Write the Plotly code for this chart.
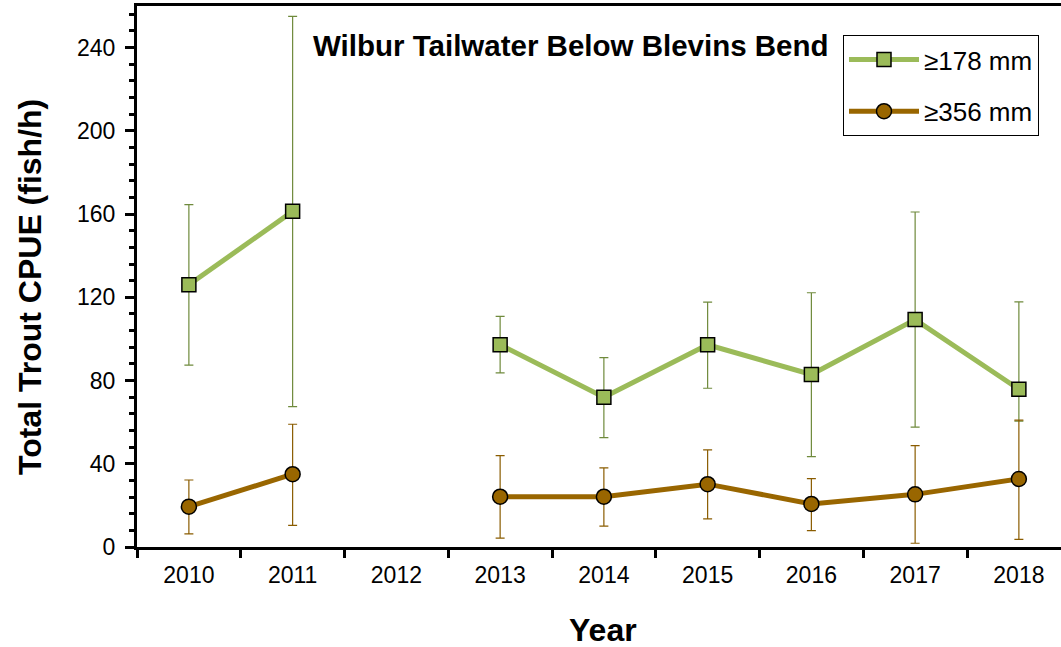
import plotly.graph_objects as go

years = ["2010", "2011", "2012", "2013", "2014", "2015", "2016", "2017", "2018"]

cpue_178 = [126.0, 161.3, None, 97.2, 72.0, 97.2, 82.9, 109.3, 75.8]
upper_178 = [164.5, 255.0, None, 110.8, 91.0, 117.7, 122.2, 161.0, 117.8]
lower_178 = [87.4, 67.5, None, 83.7, 52.6, 76.3, 43.4, 57.6, 60.5]

cpue_356 = [19.4, 35.0, None, 24.2, 24.2, 30.2, 20.7, 25.3, 32.7]
upper_356 = [32.2, 59.0, None, 43.9, 38.0, 46.7, 32.9, 48.7, 61.0]
lower_356 = [6.3, 10.4, None, 4.3, 10.0, 13.5, 7.9, 1.8, 3.7]

def plus(v, u):
    return [None if a is None else b - a for a, b in zip(v, u)]

def minus(v, l):
    return [None if a is None else a - b for a, b in zip(v, l)]

FONT = "Arial, Liberation Sans, sans-serif"
L, T, W, H = 137, 6, 924, 541

fig = go.Figure()
fig.add_trace(go.Scatter(
    x=years, y=cpue_178, name="≥178 mm", mode="lines+markers",
    line=dict(color="#9bbb59", width=5),
    marker=dict(symbol="square", size=14, color="#9bbb59", line=dict(color="black", width=1.5)),
    error_y=dict(type="data", array=plus(cpue_178, upper_178), arrayminus=minus(cpue_178, lower_178),
                 color="#6f8a3c", thickness=1.2, width=4.5),
    legendgroup="a",
))
fig.add_trace(go.Scatter(
    x=years, y=cpue_356, name="≥356 mm", mode="lines+markers",
    line=dict(color="#996600", width=5),
    marker=dict(symbol="circle", size=15, color="#996600", line=dict(color="black", width=1.5)),
    error_y=dict(type="data", array=plus(cpue_356, upper_356), arrayminus=minus(cpue_356, lower_356),
                 color="#8a5c00", thickness=1.2, width=4.5),
    legendgroup="b",
))

def px_x(p):
    return (p - L) / W

def px_y(p):
    return (T + H - p) / H

fig.add_annotation(text="<b>Wilbur Tailwater Below Blevins Bend</b>",
                   x=px_x(571), y=px_y(45), xref="paper", yref="paper",
                   xanchor="center", yanchor="middle", showarrow=False,
                   font=dict(family=FONT, size=29.5, color="black"))
fig.add_annotation(text="<b>Year</b>",
                   x=px_x(603), y=px_y(630), xref="paper", yref="paper",
                   xanchor="center", yanchor="middle", showarrow=False,
                   font=dict(family=FONT, size=32, color="black"))
fig.add_annotation(text="<b>Total Trout CPUE (fish/h)</b>", textangle=-90,
                   x=px_x(30), y=px_y(287), xref="paper", yref="paper",
                   xanchor="center", yanchor="middle", showarrow=False,
                   font=dict(family=FONT, size=32, color="black"))

fig.update_layout(
    width=1061, height=647,
    margin=dict(l=L, r=0, t=T, b=647 - T - H),
    plot_bgcolor="white", paper_bgcolor="white",
    font=dict(family=FONT, color="black"),
    legend=dict(x=px_x(843), y=px_y(35), xanchor="left", yanchor="top",
                bordercolor="black", borderwidth=1, bgcolor="white",
                font=dict(family=FONT, size=26, color="black"),
                tracegroupgap=15, traceorder="grouped", itemwidth=70),
    showlegend=True,
    xaxis=dict(
        type="category", range=[-0.5, 8.406], tickson="boundaries", automargin=False,
        showline=True, linecolor="black", linewidth=3, mirror=True,
        ticks="outside", ticklen=8, tickwidth=2.5, tickcolor="black",
        showgrid=False, zeroline=False, ticklabelstandoff=5,
        tickfont=dict(family=FONT, size=23, color="black"),
    ),
    yaxis=dict(
        range=[0, 260], dtick=40, tick0=0, automargin=False,
        showline=True, linecolor="black", linewidth=3, mirror=False,
        ticks="outside", ticklen=9, tickwidth=2.5, tickcolor="black",
        minor=dict(ticks="outside", ticklen=5, dtick=8, tick0=0, tickwidth=2.5, tickcolor="black"),
        showgrid=False, zeroline=False, ticklabelstandoff=5,
        tickfont=dict(family=FONT, size=23, color="black"),
    ),
)

fig.write_html("out.html", config={"displayModeBar": False},
               post_script="document.body.style.margin='0px';")
